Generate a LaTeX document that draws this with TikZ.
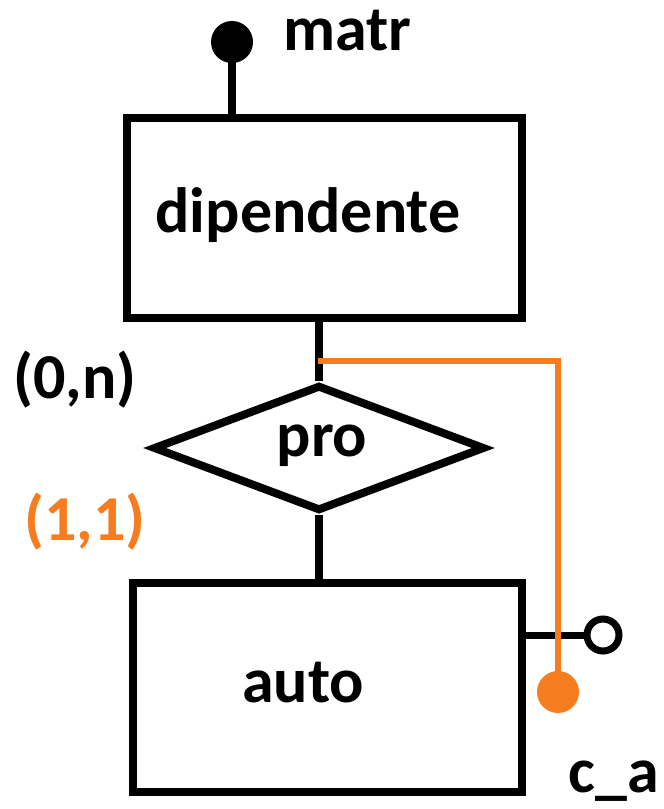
\documentclass[tikz,border=0pt]{standalone}
\usepackage{fontspec}
\setmainfont{Carlito}
\usetikzlibrary{shapes.geometric}
\definecolor{erorange}{RGB}{245,125,32}
\begin{document}
\begin{tikzpicture}[x=1pt,y=-1pt,
  ent/.style={draw=black,line width=8pt,rectangle,inner sep=0pt},
  rel/.style={draw=black,line width=8pt,diamond,inner sep=0pt},
  txt/.style={font=\fontsize{64}{64}\selectfont\bfseries,inner sep=0pt},
  conn/.style={line width=8pt},
  oconn/.style={line width=6pt,draw=erorange},
  keydot/.style={circle,fill=black,minimum size=42pt,inner sep=0pt},
  odot/.style={circle,fill=erorange,minimum size=42pt,inner sep=0pt},
  opendot/.style={circle,draw=black,line width=7pt,fill=white,minimum size=32pt,inner sep=0pt}]
\useasboundingbox (0,0) rectangle (664,809);
\node[ent,minimum width=395pt,minimum height=200pt] (dip) at (324.5,218) {};
\node[txt] (diptxt) at (308,215) {dipendente};
\node[rel,minimum width=332pt,minimum height=126pt] (pro) at (319,448) {};
\node[txt] (protxt) at (322,446) {pro};
\node[ent,minimum width=389pt,minimum height=209pt] (auto) at (327.5,687.5) {};
\node[txt] (autotxt) at (303,683) {auto};
\node[keydot] (matrdot) at (232,42) {};
\node[txt,anchor=base west,text height=36pt] (matr) at (283,50) {matr};
\draw[conn] (matrdot.center) -- (matrdot.center |- dip.north);
\draw[conn] (pro.north) -- (pro.north |- dip.south);
\draw[conn] (pro.south) -- (pro.south |- auto.north);
\node[opendot] (cacirc) at (603,635) {};
\draw[line width=7pt] (auto.east |- cacirc) -- (cacirc.west);
\coordinate (junc) at (318,361);
\node[odot] (cadot) at (558,692) {};
\draw[oconn] (junc) -| (cadot.center);
\node[txt,anchor=base] (ca) at (614,792) {c\_a};
\node[txt] (card1) at (75,380) {(0,n)};
\node[txt,text=erorange] (card2) at (85,522) {(1,1)};
\end{tikzpicture}
\end{document}
